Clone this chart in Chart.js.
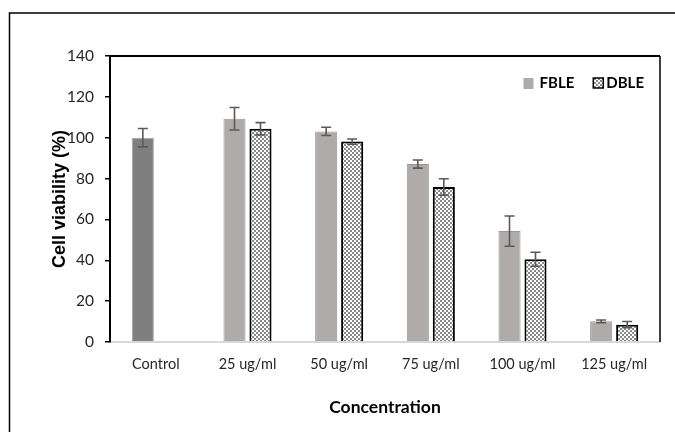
<!DOCTYPE html>
<html>
<head>
<meta charset="utf-8">
<script src="https://cdn.jsdelivr.net/npm/chart.js@4.4.1/dist/chart.umd.min.js"></script>
<style>
  html, body { margin: 0; padding: 0; background: #ffffff; }
  #wrap { width: 675px; height: 432px; position: relative; }
</style>
</head>
<body>
<div id="wrap"><canvas id="c" width="675" height="432"></canvas></div>
<script>
// ---- data ----
const categories = ["Control", "25 ug/ml", "50 ug/ml", "75 ug/ml", "100 ug/ml", "125 ug/ml"];
const seriesNames = ["FBLE", "DBLE"];
const fbleValues = [100, 109.3, 103.1, 87.1, 54.3, 10.1];
const fbleErrors = [4.5, 5.5, 2.0, 2.0, 7.4, 0.7];
const dbleValues = [null, 104.4, 98.1, 75.9, 40.5, 8.5];
const dbleErrors = [null, 3.0, 1.3, 4.0, 3.4, 1.5];
const yTicks = [0, 20, 40, 60, 80, 100, 120, 140];

// checkerboard pattern
function makePattern() {
  const p = document.createElement('canvas');
  p.width = 4; p.height = 4;
  const g = p.getContext('2d');
  g.fillStyle = '#ffffff'; g.fillRect(0, 0, 4, 4);
  g.fillStyle = '#8a8a8a';
  g.fillRect(0, 0, 2, 2); g.fillRect(2, 2, 2, 2);
  return g.createPattern(p, 'repeat');
}
const checker = makePattern();
const FBLE_COLOR = '#afabab';

const errorBarPlugin = {
  id: 'errorBars',
  afterDatasetsDraw(chart) {
    const ctx = chart.ctx;
    const y = chart.scales.y;
    const errs = [fbleErrors, dbleErrors];
    ctx.save();
    ctx.strokeStyle = '#5a5a5a';
    ctx.lineWidth = 1.6;
    chart.data.datasets.forEach((ds, di) => {
      const meta = chart.getDatasetMeta(di);
      meta.data.forEach((bar, i) => {
        const v = ds.data[i];
        const e = errs[di][i];
        if (v == null || e == null) return;
        const x = bar.x;
        const yt = y.getPixelForValue(v + e);
        const yb = y.getPixelForValue(v - e);
        ctx.beginPath();
        ctx.moveTo(x, yt); ctx.lineTo(x, yb);
        ctx.moveTo(x - 5, yt); ctx.lineTo(x + 5, yt);
        ctx.moveTo(x - 5, yb); ctx.lineTo(x + 5, yb);
        ctx.stroke();
      });
    });
    ctx.restore();
  }
};

const framePlugin = {
  id: 'frame',
  afterDraw(chart) {
    const ctx = chart.ctx;
    const a = chart.chartArea;
    ctx.save();
    ctx.strokeStyle = '#000000';
    ctx.lineWidth = 2;
    ctx.beginPath();
    ctx.moveTo(a.left, a.top); ctx.lineTo(a.right, a.top);
    ctx.stroke();
    ctx.lineWidth = 1.5;
    ctx.beginPath();
    ctx.moveTo(a.right, a.top); ctx.lineTo(a.right, a.bottom);
    ctx.stroke();
    ctx.lineWidth = 1.5;
    ctx.beginPath();
    ctx.moveTo(9.5, chart.height + 2); ctx.lineTo(9.5, 13); ctx.lineTo(chart.width + 2, 13);
    ctx.stroke();

    // legend (top-right inside plot area)
    ctx.font = 'bold 15px Lato';
    ctx.textBaseline = 'middle';
    ctx.textAlign = 'left';
    const cy = a.top + 27;
    const w1 = ctx.measureText(seriesNames[0]).width;
    const w2 = ctx.measureText(seriesNames[1]).width;
    let x = a.right - 16 - w2;
    // DBLE
    ctx.fillStyle = '#000';
    ctx.fillText(seriesNames[1], x, cy);
    x -= 13;
    ctx.fillStyle = checker;
    ctx.fillRect(x, cy - 5, 10, 10);
    ctx.lineWidth = 1.5;
    ctx.strokeStyle = '#000';
    ctx.strokeRect(x, cy - 5, 10, 10);
    // FBLE
    x -= 19 + w1;
    ctx.fillStyle = '#000';
    ctx.fillText(seriesNames[0], x, cy);
    x -= 16;
    ctx.fillStyle = FBLE_COLOR;
    ctx.fillRect(x, cy - 5, 10, 11);
    ctx.restore();
  }
};

new Chart(document.getElementById('c'), {
  type: 'bar',
  data: {
    labels: categories,
    datasets: [
      {
        label: seriesNames[0],
        data: fbleValues,
        backgroundColor: (c) => (c.dataIndex === 0 ? '#7f7f7f' : FBLE_COLOR),
        borderColor: (c) => (c.dataIndex === 0 ? '#a6a6a6' : '#9a9696'),
        borderWidth: 1
      },
      {
        label: seriesNames[1],
        data: dbleValues,
        backgroundColor: checker,
        borderColor: '#000000',
        borderWidth: 2
      }
    ]
  },
  options: {
    responsive: false,
    animation: false,
    devicePixelRatio: 1,
    categoryPercentage: 0.567,
    barPercentage: 0.85,
    layout: { padding: { left: 41, top: 56, right: 15, bottom: 10 } },
    plugins: {
      legend: { display: false },
      tooltip: { enabled: false }
    },
    scales: {
      x: {
        afterFit(s) { s.height = 80; },
        grid: { display: false, drawTicks: false },
        border: { display: true, color: '#d9d9d9', width: 2 },
        ticks: {
          color: '#262626',
          padding: 14,
          font: { family: 'Lato', size: 14.5 }
        },
        title: {
          display: true,
          text: 'Concentration',
          color: '#000000',
          font: { family: 'Lato', size: 17.5, weight: 'bold' },
          padding: { top: 0, bottom: 4 }
        }
      },
      y: {
        min: 0,
        max: 140,
        afterFit(s) { s.width = 110 - 41; },
        afterBuildTicks(s) { s.ticks = yTicks.map(v => ({ value: v })); },
        grid: { display: true, drawOnChartArea: false, drawTicks: true, tickLength: 5, color: '#000000', lineWidth: 1.5 },
        border: { display: true, color: '#000000', width: 2 },
        ticks: {
          color: '#262626',
          padding: 11,
          font: { family: 'Lato', size: 15.5 }
        },
        title: {
          display: true,
          text: 'Cell viability (%)',
          color: '#000000',
          font: { family: 'Liberation Sans', size: 18, weight: 'bold' },
          padding: { top: 8, bottom: 0 }
        }
      }
    }
  },
  plugins: [errorBarPlugin, framePlugin]
});
</script>
</body>
</html>
